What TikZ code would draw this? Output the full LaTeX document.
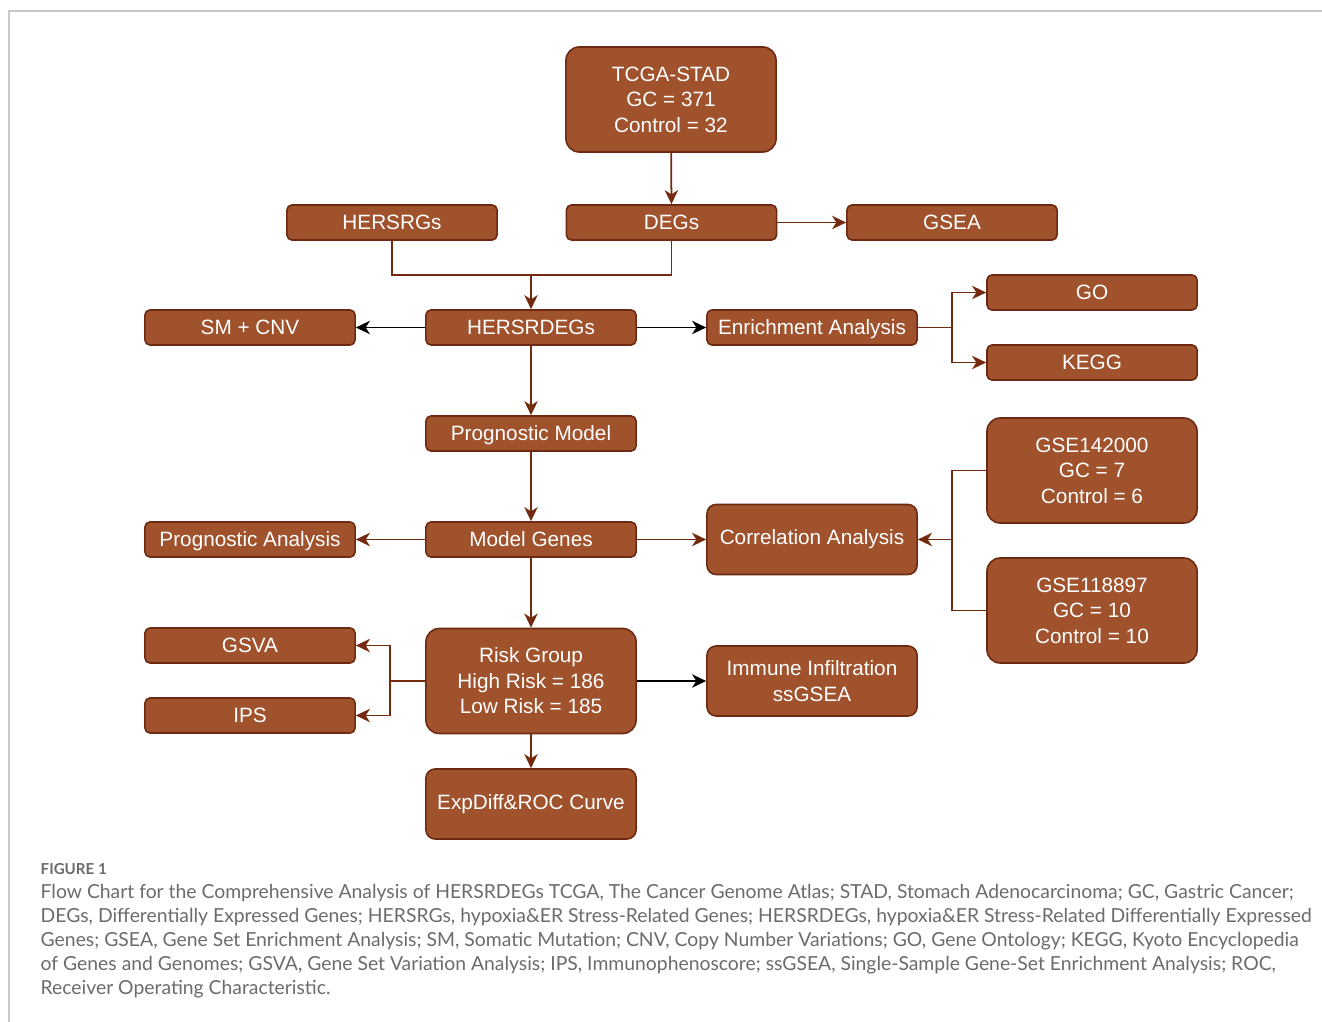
\documentclass[tikz,border=0pt]{standalone}
\usepackage{fontspec}
\setmainfont{Liberation Sans}
\newfontfamily\capfont{Lato}
\usetikzlibrary{arrows.meta}

\definecolor{boxfill}{HTML}{A0522D}
\definecolor{boxline}{HTML}{6D2A12}
\definecolor{linkcol}{HTML}{742A0E}
\definecolor{captxt}{HTML}{6B6B6B}
\definecolor{framecol}{HTML}{C8C8C8}

\begin{document}
\begin{tikzpicture}[x=0.01cm,y=-0.01cm,
    box/.style={draw=boxline, line width=0.45pt, fill=boxfill, text=white,
      rounded corners=1.4pt, minimum width=2.1cm, minimum height=0.35cm,
      inner sep=0pt, font=\fontsize{5.9}{7.25}\selectfont,
      text height=4.22pt, text depth=0pt},
    midbox/.style={box, minimum height=0.7cm, rounded corners=2.6pt,
      align=center, text height=, text depth=},
    bigbox/.style={box, minimum height=1.05cm, rounded corners=3.8pt,
      align=center, text height=, text depth=},
    wire/.style={draw=linkcol, line width=0.5pt},
    link/.style={wire, -{Stealth[length=4pt,width=3.8pt,inset=1.2pt]}},
    blink/.style={link, draw=black},
    captext/.style={anchor=base west, inner sep=0pt, text=captxt,
      font=\capfont\fontsize{5.5}{6.8}\selectfont}]
    \useasboundingbox (0,0) rectangle (1322,1022);
    \draw[framecol, line width=0.4pt] (9,1022) -- (9,11) -- (1322,11);

    % boxes
    \node[bigbox] (tcga) at (671,99.5) {TCGA-STAD\\GC = 371\\Control = 32};
    \node[box] (hersrgs) at (392,222.5) {HERSRGs};
    \node[box] (degs) at (671.5,222.5) {DEGs};
    \node[box] (gsea) at (952,222.5) {GSEA};
    \node[box] (smcnv) at (250,327.5) {SM + CNV};
    \node[box] (hersrdegs) at (531,327.5) {HERSRDEGs};
    \node[box] (enrich) at (812,327.5) {Enrichment Analysis};
    \node[box] (go) at (1092,292.5) {GO};
    \node[box] (kegg) at (1092,362.5) {KEGG};
    \node[box] (progmodel) at (531,433.5) {Prognostic Model};
    \node[bigbox] (gse142) at (1092,470.5) {GSE142000\\GC = 7\\Control = 6};
    \node[box] (proganal) at (250,539.5) {Prognostic Analysis};
    \node[box] (modelgenes) at (531,539.5) {Model Genes};
    \node[midbox] (corr) at (812,539.5) {Correlation Analysis};
    \node[bigbox] (gse118) at (1092,610.5) {GSE118897\\GC = 10\\Control = 10};
    \node[box] (gsva) at (250,645.5) {GSVA};
    \node[box] (ips) at (250,715.5) {IPS};
    \node[bigbox] (risk) at (531,681) {Risk Group\\High Risk = 186\\Low Risk = 185};
    \node[midbox] (immune) at (812,681) {Immune Infiltration\\ssGSEA};
    \node[midbox] (expdiff) at (531,804) {ExpDiff\&ROC Curve};

    % connectors
    \coordinate (join) at (531,275);
    \coordinate (enrfork) at (952,327.5);
    \coordinate (gsefork) at (952,539.5);
    \coordinate (riskfork) at (390,681);
    \draw[link] (tcga) -- (degs);
    \draw[link] (degs) -- (gsea);
    \draw[wire] (hersrgs.south) |- (join) -| (degs.south);
    \draw[link] (join) -- (hersrdegs);
    \draw[blink] (hersrdegs) -- (smcnv);
    \draw[blink] (hersrdegs) -- (enrich);
    \draw[wire] (enrich) -- (enrfork);
    \draw[link] (enrfork) |- (go);
    \draw[link] (enrfork) |- (kegg);
    \draw[link] (hersrdegs) -- (progmodel);
    \draw[link] (progmodel) -- (modelgenes);
    \draw[link] (modelgenes) -- (proganal);
    \draw[link] (modelgenes) -- (corr);
    \draw[wire] (gse142.west) -| (gsefork);
    \draw[wire] (gse118.west) -| (gsefork);
    \draw[link] (gsefork) -- (corr);
    \draw[link] (modelgenes) -- (risk);
    \draw[wire] (risk) -- (riskfork);
    \draw[link] (riskfork) |- (gsva);
    \draw[link] (riskfork) |- (ips);
    \draw[blink] (risk) -- (immune);
    \draw[link] (risk) -- (expdiff);

    % caption
    \node[anchor=base west, inner sep=0pt, text=captxt,
      font=\capfont\bfseries\fontsize{4.3}{5}\selectfont] (figlabel) at (40,874) {FIGURE 1};
    \node[captext] (cap1) at (40,898) {Flow Chart for the Comprehensive Analysis of HERSRDEGs TCGA, The Cancer Genome Atlas; STAD, Stomach Adenocarcinoma; GC, Gastric Cancer;};
    \node[captext] (cap2) at (40,922) {DEGs, Differentially Expressed Genes; HERSRGs, hypoxia\&ER Stress-Related Genes; HERSRDEGs, hypoxia\&ER Stress-Related Differentially Expressed};
    \node[captext] (cap3) at (40,946) {Genes; GSEA, Gene Set Enrichment Analysis; SM, Somatic Mutation; CNV, Copy Number Variations; GO, Gene Ontology; KEGG, Kyoto Encyclopedia};
    \node[captext] (cap4) at (40,970) {of Genes and Genomes; GSVA, Gene Set Variation Analysis; IPS, Immunophenoscore; ssGSEA, Single-Sample Gene-Set Enrichment Analysis; ROC,};
    \node[captext] (cap5) at (40,994) {Receiver Operating Characteristic.};
\end{tikzpicture}
\end{document}
